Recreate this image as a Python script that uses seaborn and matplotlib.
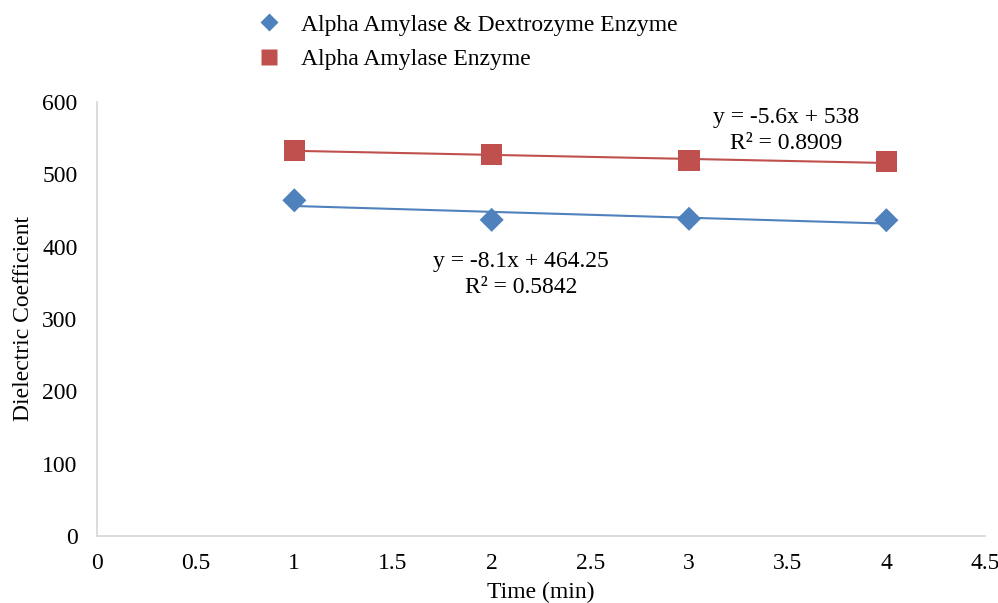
import numpy as np
import pandas as pd
import matplotlib.pyplot as plt
import seaborn as sns

# data
time_min = [1, 2, 3, 4]
mixed_vals = [464, 437, 438.5, 436.5]   # Alpha Amylase & Dextrozyme Enzyme
amylase_vals = [533, 527, 519, 517]     # Alpha Amylase Enzyme
series_names = ['Alpha Amylase & Dextrozyme Enzyme', 'Alpha Amylase Enzyme']
mixed_eq = 'y = -8.1x + 464.25\nR² = 0.5842'
amylase_eq = 'y = -5.6x + 538\nR² = 0.8909'
x_ticks = [0, 0.5, 1, 1.5, 2, 2.5, 3, 3.5, 4, 4.5]
y_ticks = [0, 100, 200, 300, 400, 500, 600]

blue = '#4F81BD'
red = '#C0504D'

sns.set_style("white")
plt.rcParams['font.family'] = ['Liberation Serif', 'DejaVu Serif']
plt.rcParams['text.color'] = 'black'
plt.rcParams['xtick.color'] = 'black'
plt.rcParams['ytick.color'] = 'black'
plt.rcParams['axes.labelcolor'] = 'black'

df = pd.DataFrame({
    'time': time_min * 2,
    'value': mixed_vals + amylase_vals,
    'series': [series_names[0]] * 4 + [series_names[1]] * 4,
})

fig = plt.figure(figsize=(9.98, 6.03), dpi=100)
ax = fig.add_axes([0.0972, 0.111, 0.8898, 0.72])

# linear trendlines over the data range
sns.regplot(x=time_min, y=mixed_vals, scatter=False, ci=None, ax=ax,
            line_kws={'color': blue, 'lw': 1.5})
sns.regplot(x=time_min, y=amylase_vals, scatter=False, ci=None, ax=ax,
            line_kws={'color': red, 'lw': 1.5})

sns.scatterplot(data=df, x='time', y='value', hue='series', style='series',
                palette=[blue, red], markers=['D', 's'], size='series',
                sizes=[150, 230], ax=ax, edgecolor='none', zorder=3,
                legend=False)

# legend handles
for name, col, mk, sz in zip(series_names, [blue, red], ['D', 's'], [9, 11.5]):
    ax.plot([], [], ls='none', marker=mk, ms=sz, color=col, mec='none', label=name)

ax.text(2.15, 361, mixed_eq, ha='center', va='center', fontsize=17, linespacing=1.3)
ax.text(3.49, 561, amylase_eq, ha='center', va='center', fontsize=17, linespacing=1.3)

ax.set_xlim(0, 4.5)
ax.set_ylim(0, 600)
ax.set_xticks(x_ticks)
ax.set_xticklabels([f'{t:g}' for t in x_ticks])
ax.set_yticks(y_ticks)
ax.tick_params(axis='x', length=5, color='#d9d9d9', labelsize=17, pad=7)
ax.tick_params(axis='y', length=0, labelsize=17, pad=14)
ax.set_xlabel('Time (min)', fontsize=17, labelpad=6)
ax.set_ylabel('Dielectric Coefficient', fontsize=17, labelpad=6)
for side in ['top', 'right']:
    ax.spines[side].set_visible(False)
for side in ['left', 'bottom']:
    ax.spines[side].set_color('#d9d9d9')
    ax.spines[side].set_linewidth(1.3)

fig.legend(loc='upper left', bbox_to_anchor=(0.232, 1.0), frameon=False,
           fontsize=17, handletextpad=0.35, labelspacing=0.55, borderaxespad=0.2)

fig.savefig('out.png', dpi=100)
